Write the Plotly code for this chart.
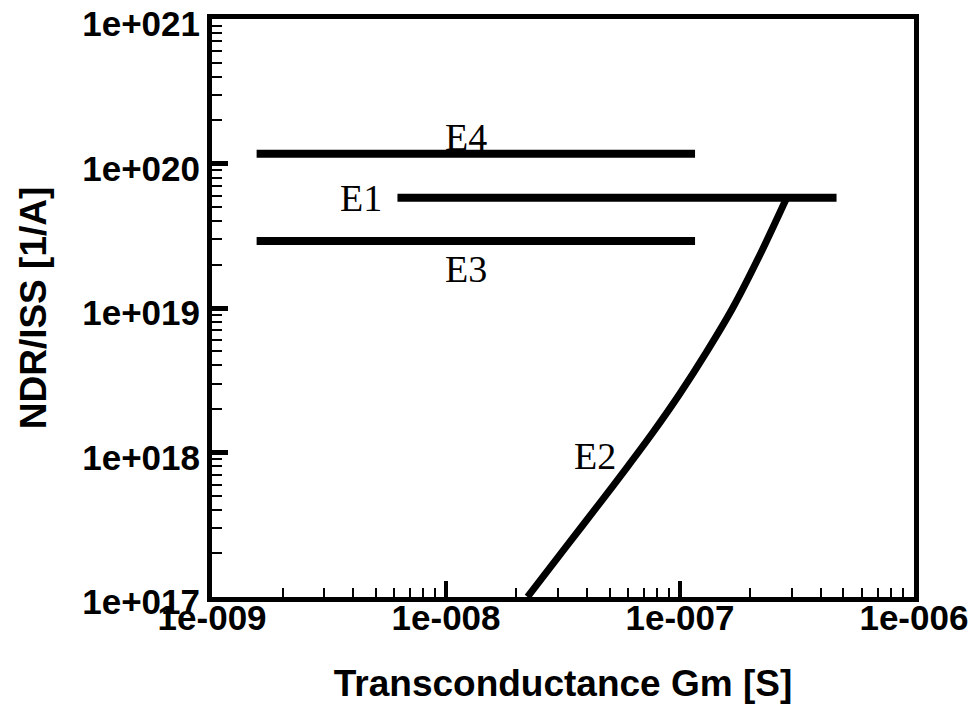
import plotly.graph_objects as go

# ---- data ----
e4_x = [1.55e-9, 1.16e-7]
e4_y = [1.17e20, 1.17e20]
e1_x = [6.2e-9, 4.67e-7]
e1_y = [5.8e19, 5.8e19]
e3_x = [1.55e-9, 1.16e-7]
e3_y = [2.91e19, 2.91e19]
e2_x = [2.23e-8, 3.30e-8, 4.56e-8, 5.94e-8, 7.67e-8, 1.0e-7, 1.30e-7, 1.68e-7, 2.19e-7, 2.86e-7]
e2_y = [1.0e17, 2.28e17, 4.50e17, 7.89e17, 1.38e18, 2.56e18, 4.97e18, 1.0e19, 2.31e19, 5.8e19]

x_tickvals = [1e-9, 1e-8, 1e-7, 1e-6]
x_ticktext = ["1e-009", "1e-008", "1e-007", "1e-006"]
y_tickvals = [1e17, 1e18, 1e19, 1e20, 1e21]
y_ticktext = ["1e+017", "1e+018", "1e+019", "1e+020", "1e+021"]

x_title = "Transconductance Gm [S]"
y_title = "NDR/ISS [1/A]"

fig = go.Figure()
line_style = dict(color="black", width=8)
for xs, ys in [(e4_x, e4_y), (e1_x, e1_y), (e3_x, e3_y)]:
    fig.add_trace(go.Scatter(x=xs, y=ys, mode="lines", line=line_style, showlegend=False))
fig.add_trace(go.Scatter(x=e2_x, y=e2_y, mode="lines",
                         line=dict(color="black", width=7, shape="spline", smoothing=0.8),
                         showlegend=False))

lab_font = dict(family="Liberation Serif, Times New Roman, serif", size=38, color="black")
for txt, ax, ay in [("E4", -7.913, 20.186), ("E1", -8.365, 19.759), ("E3", -7.913, 19.269), ("E2", -7.362, 17.979)]:
    fig.add_annotation(x=ax, y=ay, xref="x", yref="y", text=txt, showarrow=False, font=lab_font)

tick_font = dict(family="Liberation Sans, Arial, sans-serif", size=35, color="black")
title_font = dict(family="Liberation Sans, Arial, sans-serif", size=37, color="black")

fig.update_xaxes(type="log", range=[-9.0004, -5.9996], tickvals=x_tickvals,
                 ticktext=["<b>%s</b>" % t for t in x_ticktext],
                 tickfont=tick_font, ticks="inside", ticklen=16, tickwidth=4, tickcolor="black",
                 ticklabelstandoff=-14, ticklabeloverflow="allow", automargin=False,
                 showline=True, linewidth=5, linecolor="black", mirror=True, showgrid=False, zeroline=False,
                 minor=dict(ticks="inside", ticklen=9, tickwidth=2, tickcolor="black", dtick="D1", showgrid=False),
                 title=dict(text="<b>%s</b>" % x_title, font=title_font, standoff=36))
fig.update_yaxes(type="log", range=[16.9995, 21.0005], tickvals=y_tickvals,
                 ticktext=["<b>%s</b>" % t for t in y_ticktext],
                 tickfont=tick_font, ticks="inside", ticklen=16, tickwidth=5, tickcolor="black",
                 ticklabeloverflow="allow", automargin=False, ticklabelshift=5,
                 showline=True, linewidth=5, linecolor="black", mirror=True, showgrid=False, zeroline=False,
                 minor=dict(ticks="inside", ticklen=10, tickwidth=2, tickcolor="black", dtick="D1", showgrid=False),
                 title=dict(text="<b>%s</b>" % y_title, font=title_font, standoff=26))

fig.update_layout(width=978, height=717, margin=dict(l=212, r=64, t=19, b=120),
                  plot_bgcolor="white", paper_bgcolor="white")
fig.write_html("out.html")
